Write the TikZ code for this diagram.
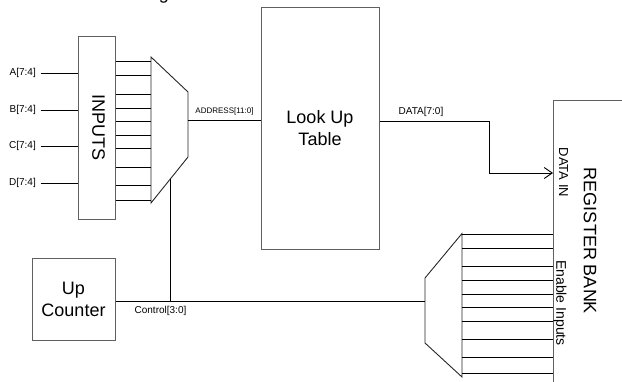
\documentclass[tikz,border=0pt]{standalone}
\usepackage{fontspec}
\setmainfont{Liberation Sans}
\usetikzlibrary{arrows.meta}
\definecolor{boxgray}{HTML}{606060}
\tikzset{
  blk/.style={draw=boxgray, line width=1pt, rectangle, inner sep=0pt},
  wire/.style={draw=black, line width=0.9pt},
  muxline/.style={draw=black!85, line width=0.9pt},
  sig/.style={font=\fontsize{10}{12}\selectfont, inner sep=0pt},
  big/.style={font=\fontsize{18}{22}\selectfont, align=center},
}
\begin{document}
\begin{tikzpicture}[x=1pt,y=-1pt]
\useasboundingbox (0,0) rectangle (622,381);
\clip (0,0) rectangle (622,381);

% partially visible title fragment
\node[font=\fontsize{18}{22}\selectfont, anchor=base, inner sep=0pt] (title) at (164,-1) {g};

% blocks
\node[blk, minimum width=37pt, minimum height=183pt] (inputs) at (96.5,127.5) {};
\node[rotate=-90, font=\fontsize{18}{22}\selectfont, inner sep=0pt] (inputslbl) at (98.5,127.5) {INPUTS};
\node[blk, big, minimum width=118pt, minimum height=242pt] (lut) at (320,128) {Look Up\\Table};
\node[blk, big, minimum width=83pt, minimum height=82pt] (counter) at (73.5,299) {Up\\Counter};
\node[blk, minimum width=120pt, minimum height=340pt, anchor=north west] (regbank) at (553,100) {};
\node[rotate=-90, font=\fontsize{18}{22}\selectfont, inner sep=0pt] (reglbl) at (590,241) {REGISTER BANK};
\node[rotate=-90, font=\fontsize{13}{15}\selectfont, inner sep=0pt] (datain) at (563.5,172.5) {DATA IN};
\node[rotate=-90, font=\fontsize{14}{16}\selectfont, inner sep=0pt] (enin) at (560,303) {Enable Inputs};

% input labels and wires
\foreach \n/\t/\y in {la/A/73, lb/B/110, lc/C/146, ld/D/183}{
  \node[sig, anchor=east, inner xsep=4.5pt] (\n) at (40.5,\y) {\t[7:4]};
  \draw[wire] (\n.east) -- (inputs.west |- \n.east);
}

% left mux
\coordinate (m1) at (151,57);
\coordinate (m2) at (188,92);
\coordinate (m3) at (188,157);
\coordinate (m4) at (151,203);
\draw[muxline] (m1) -- (m2) -- (m3) -- (m4) -- cycle;
\foreach \y in {61,75,94,108,121,135,148,167,185,200}{
  \draw[wire] (inputs.east |- 0,\y) -- (m1 |- 0,\y);
}
\coordinate (mout) at (188,120.5);
\draw[wire] (mout) -- (lut.west |- mout);
\node[font=\fontsize{8}{10}\selectfont, inner sep=0pt] (addr) at (224.5,111) {ADDRESS[11:0]};

% right mux
\coordinate (r1) at (425,278);
\coordinate (r2) at (462,233.5);
\coordinate (r3) at (462,377);
\coordinate (r4) at (425,343);
\draw[muxline] (r1) -- (r2) -- (r3) -- (r4) -- cycle;
\foreach \y in {234,248,266,280.5,294,307,321,339,357.5,373.3}{
  \draw[wire] (r2 |- 0,\y) -- (regbank.west |- 0,\y);
}

% control
\coordinate (cstart) at (counter.east |- 0,301);
\coordinate (cend) at (r1 |- 0,301);
\draw[wire] (cstart) -- (cend);
\coordinate (ctap) at (170,179.4);
\draw[wire] (ctap) -- (ctap |- cstart);
\node[sig] (ctrl) at (160.5,310.5) {Control[3:0]};

% data
\coordinate (d1) at (lut.east |- 0,121);
\coordinate (d2) at (489.3,121);
\coordinate (d3) at (489.3,173);
\draw[wire, -{Straight Barb[length=8pt,width=11pt]}] (d1) -- (d2) -- (d3) -- (regbank.west |- d3);
\node[sig] (data) at (421,112) {DATA[7:0]};
\end{tikzpicture}
\end{document}
